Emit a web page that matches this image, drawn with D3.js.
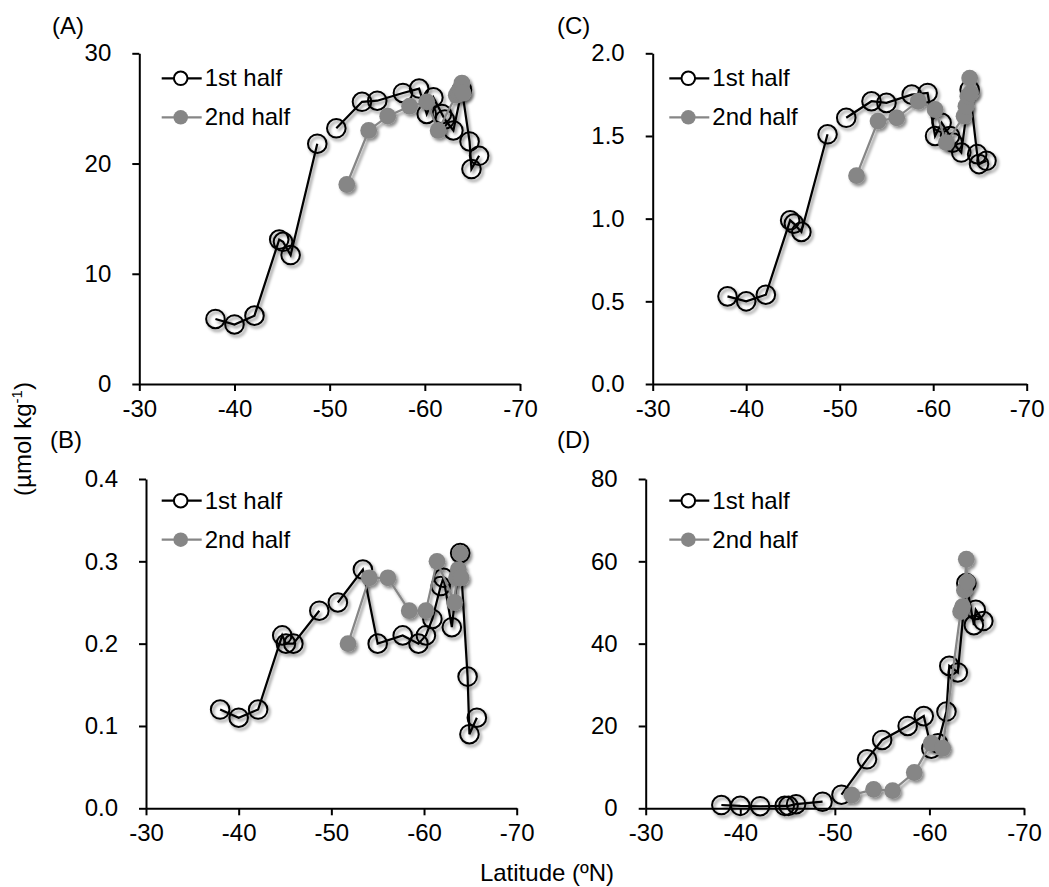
<!DOCTYPE html>
<html>
<head>
<meta charset="utf-8">
<script src="https://cdn.jsdelivr.net/npm/d3@7"></script>
<style>
  body { margin: 0; background: #fff; }
  svg { display: block; }
  text { font-family: "Liberation Sans", Arial, Helvetica, sans-serif; fill: #000; }
</style>
</head>
<body>
<svg id="chart" width="1049" height="887"></svg>
<script>
// Station latitudes (ºN) for each half of the cruise
const lat1st = [-38.0, -40.0, -42.1, -44.7, -45.1, -45.9, -48.7, -50.7, -53.4, -55.0, -57.7,
                -59.4, -60.2, -60.9, -61.8, -62.1, -63.0, -63.9, -64.7, -64.9, -65.7];
const lat2nd = [-51.8, -54.1, -56.1, -58.4, -60.2, -61.4, -63.3, -63.5, -63.7, -63.9, -64.0];
// The 1st-half line restarts at these stations
const segmentStarts1st = [-38.0, -50.7];

// (A)
const valuesA1st = [5.9, 5.4, 6.2, 13.1, 12.9, 11.7, 21.8, 23.2, 25.6, 25.7, 26.4,
                     26.8, 24.5, 26.0, 24.5, 24.0, 23.0, 26.7, 22.0, 19.5, 20.7];
const valuesA2nd = [18.1, 23.0, 24.3, 25.2, 25.6, 23.0, 26.2, 26.5, 26.8, 27.3, 26.4];
// (B)
const valuesB1st = [0.12, 0.11, 0.12, 0.21, 0.20, 0.20, 0.24, 0.25, 0.29, 0.20, 0.21,
                    0.20, 0.21, 0.23, 0.27, 0.28, 0.22, 0.31, 0.16, 0.09, 0.11];
const valuesB2nd = [0.20, 0.28, 0.28, 0.24, 0.24, 0.30, 0.25, 0.28, 0.29, 0.31, 0.28];
// (C)
const valuesC1st = [0.53, 0.50, 0.54, 0.99, 0.97, 0.92, 1.51, 1.61, 1.71, 1.70, 1.75,
                    1.76, 1.50, 1.58, 1.50, 1.46, 1.40, 1.78, 1.39, 1.33, 1.35];
const valuesC2nd = [1.26, 1.59, 1.61, 1.71, 1.66, 1.46, 1.62, 1.68, 1.74, 1.85, 1.76];
// (D)
const valuesD1st = [0.8, 0.6, 0.5, 0.6, 0.6, 1.0, 1.6, 3.3, 11.9, 16.6, 20.0,
                    22.4, 14.5, 15.8, 23.5, 34.6, 33.0, 54.7, 44.5, 48.2, 45.5];
const valuesD2nd = [3.2, 4.6, 4.3, 8.7, 15.8, 14.6, 47.8, 49.0, 53.0, 60.5, 55.0];

const xTicks = [-30, -40, -50, -60, -70];
const yTicksA = [0, 10, 20, 30];
const yTicksB = [0, 0.1, 0.2, 0.3, 0.4];
const yTicksC = [0, 0.5, 1.0, 1.5, 2.0];
const yTicksD = [0, 20, 40, 60, 80];

const seriesNames = ["1st half", "2nd half"];
const panelLabels = ["(A)", "(B)", "(C)", "(D)"];
const yTitle = "(µmol kg";
const xTitle = "Latitude (ºN)";

const GREY = "#868686";
const FS = 24;

// plain hyphen for negative numbers
const fmtInt = d => String(d);
const fmt1 = d => d.toFixed(1);

const panels = [
  { label: panelLabels[0], v1: valuesA1st, v2: valuesA2nd, ticks: yTicksA, fmt: fmtInt,
    box: { l: 139.3, r: 520, t: 53.3, b: 384 }, lab: [52, 34], leg: [161.7, 78.3] },
  { label: panelLabels[1], v1: valuesB1st, v2: valuesB2nd, ticks: yTicksB, fmt: fmt1,
    box: { l: 146, r: 516.7, t: 479, b: 808.3 }, lab: [50, 448], leg: [161.7, 500.7] },
  { label: panelLabels[2], v1: valuesC1st, v2: valuesC2nd, ticks: yTicksC, fmt: fmt1,
    box: { l: 652.7, r: 1026.7, t: 53.3, b: 384 }, lab: [557, 34], leg: [669.3, 78.3] },
  { label: panelLabels[3], v1: valuesD1st, v2: valuesD2nd, ticks: yTicksD, fmt: fmtInt,
    box: { l: 645.7, r: 1024, t: 479, b: 808.3 }, lab: [557, 448], leg: [669.3, 500.7] }
];

const svg = d3.select("#chart");

// soft shadow under the markers and lines
const defs = svg.append("defs");
const f = defs.append("filter").attr("id", "shadow")
  .attr("x", "-20%").attr("y", "-20%").attr("width", "140%").attr("height", "140%");
f.append("feDropShadow").attr("dx", 2).attr("dy", 2.5).attr("stdDeviation", 1.6)
  .attr("flood-color", "#000").attr("flood-opacity", 0.45);

panels.forEach(p => {
  const x = d3.scaleLinear().domain([-30, -70]).range([p.box.l, p.box.r]);
  const y = d3.scaleLinear().domain([p.ticks[0], p.ticks[p.ticks.length - 1]]).range([p.box.b, p.box.t]);
  const g = svg.append("g");

  // axes
  const yAxis = d3.axisLeft(y).tickValues(p.ticks).tickFormat(p.fmt)
    .tickSize(7).tickSizeOuter(0).tickPadding(21);
  const xAxis = d3.axisBottom(x).tickValues(xTicks).tickFormat(fmtInt)
    .tickSize(7).tickSizeOuter(0).tickPadding(9);
  const ya = g.append("g").attr("transform", `translate(${p.box.l},0)`).call(yAxis);
  const xa = g.append("g").attr("transform", `translate(0,${p.box.b})`).call(xAxis);
  [ya, xa].forEach(a => {
    a.select(".domain").attr("stroke", "#000").attr("stroke-width", 2);
    a.selectAll(".tick line").attr("stroke", "#000").attr("stroke-width", 2);
    a.selectAll(".tick text").attr("font-size", FS).attr("fill", "#000")
      .style("font-family", '"Liberation Sans", Arial, sans-serif');
  });

  // data points
  const pts1 = lat1st.map((la, i) => ({ la, v: p.v1[i] }));
  const pts2 = lat2nd.map((la, i) => ({ la, v: p.v2[i] }));
  const segs1 = [];
  pts1.forEach(d => {
    if (segmentStarts1st.includes(d.la) || segs1.length === 0) segs1.push([]);
    segs1[segs1.length - 1].push(d);
  });
  const line = d3.line().x(d => x(d.la)).y(d => y(d.v));

  const s1 = g.append("g").attr("filter", "url(#shadow)");
  s1.selectAll("path").data(segs1).join("path")
    .attr("d", line).attr("fill", "none").attr("stroke", "#000").attr("stroke-width", 2.2);
  s1.selectAll("circle").data(pts1).join("circle")
    .attr("cx", d => x(d.la)).attr("cy", d => y(d.v)).attr("r", 9.3)
    .attr("fill", "none").attr("stroke", "#000").attr("stroke-width", 2);

  const s2 = g.append("g").attr("filter", "url(#shadow)");
  s2.append("path").datum(pts2)
    .attr("d", line).attr("fill", "none").attr("stroke", GREY).attr("stroke-width", 2.2);
  s2.selectAll("circle").data(pts2).join("circle")
    .attr("cx", d => x(d.la)).attr("cy", d => y(d.v)).attr("r", 8.4)
    .attr("fill", GREY);

  // legend
  const lg = g.append("g");
  seriesNames.forEach((name, i) => {
    const ly = p.leg[1] + i * 39;
    const lx = p.leg[0];
    lg.append("line").attr("x1", lx).attr("x2", lx + 40).attr("y1", ly).attr("y2", ly)
      .attr("stroke", i === 0 ? "#000" : GREY).attr("stroke-width", 2.2);
    if (i === 0) {
      lg.append("circle").attr("cx", lx + 19).attr("cy", ly).attr("r", 6.8)
        .attr("fill", "#fff").attr("stroke", "#000").attr("stroke-width", 2);
    } else {
      lg.append("circle").attr("cx", lx + 19).attr("cy", ly).attr("r", 7.3).attr("fill", GREY);
    }
    lg.append("text").attr("x", lx + 43).attr("y", ly + 8).attr("font-size", FS).text(name);
  });

  // panel label
  svg.append("text").attr("x", p.lab[0]).attr("y", p.lab[1]).attr("font-size", FS).text(p.label);
});

// shared axis titles
const yt = svg.append("text")
  .attr("transform", "translate(31,439) rotate(-90)")
  .attr("text-anchor", "middle").attr("font-size", FS);
yt.append("tspan").text(yTitle);
yt.append("tspan").attr("font-size", 15).attr("dy", -9).text("-1");
yt.append("tspan").attr("dy", 9).text(")");

svg.append("text").attr("x", 547).attr("y", 881).attr("text-anchor", "middle")
  .attr("font-size", FS).text(xTitle);
</script>
</body>
</html>
